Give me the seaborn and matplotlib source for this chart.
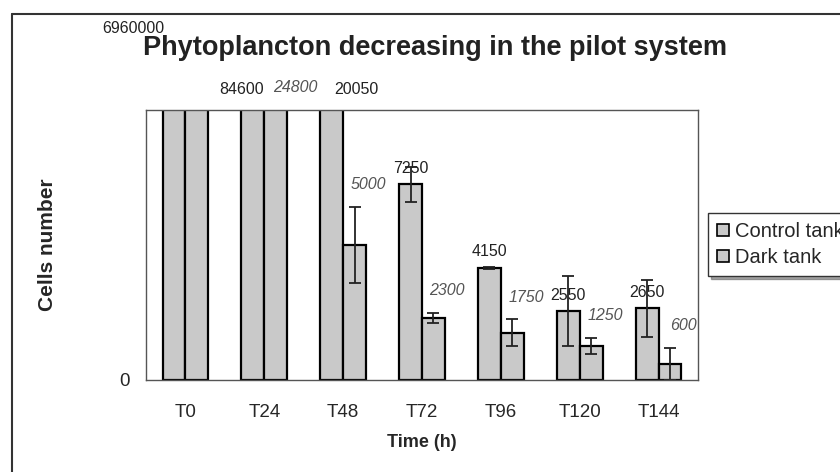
import matplotlib
matplotlib.use('Agg')
import matplotlib.pyplot as plt
from matplotlib.lines import Line2D
from matplotlib.patches import Patch
import pandas as pd
import seaborn as sns

times = ['T0', 'T24', 'T48', 'T72', 'T96', 'T120', 'T144']
control = [6960000, 84600, 20050, 7250, 4150, 2550, 2650]
dark = [6960000, 24800, 5000, 2300, 1750, 1250, 600]
control_err = [0, 0, 0, 650, 50, 1300, 1050]
dark_err = [0, 0, 1400, 200, 500, 300, 600]
series = ['Control tank', 'Dark tank']
y_max = 10000

df = pd.DataFrame({
    'time': times * 2,
    'cells': control + dark,
    'tank': [series[0]] * len(times) + [series[1]] * len(times),
})

sns.set_style('white')
plt.rcParams['font.family'] = ['Liberation Sans', 'DejaVu Sans']

fig = plt.figure(figsize=(8.4, 4.72), dpi=100)
ax = fig.add_axes([146 / 840, 1 - 380 / 472, 552 / 840, 270 / 472])

bar_grey = '#c9c9c9'
sns.barplot(data=df, x='time', y='cells', hue='tank', order=times,
            palette=[bar_grey, bar_grey], width=0.58, edgecolor='black',
            linewidth=1.6, errorbar=None, legend=False, ax=ax)
ax.set_ylim(0, y_max)
ax.set_xlim(-0.5, len(times) - 0.5)

lab_fs = 11.5
n = len(times)
cb = ax.patches[:n]
db = ax.patches[n:2 * n]

def cen(b):
    return b.get_x() + b.get_width() / 2

# error bars + value labels
for i, (bars, vals, errs) in enumerate([(cb, control, control_err), (db, dark, dark_err)]):
    for b, v, e in zip(bars, vals, errs):
        cx = cen(b)
        if e > 0:
            ax.errorbar(cx, v, yerr=e, fmt='none', ecolor='#222222',
                        elinewidth=1.3, capsize=4, capthick=1.3)
        if v > y_max:
            continue
        if i == 0:
            ax.annotate(f'{v}', (cx, v), xytext=(0, 11.5), textcoords='offset points',
                        ha='center', va='center', fontsize=lab_fs, color='#222222')
        else:
            ax.annotate(f'{v}', (cx, v + e), xytext=(10, 16), textcoords='offset points',
                        ha='center', va='center', fontsize=lab_fs, style='italic',
                        color='#555555')

# labels of the bars that run off the top
ax.annotate(f'{control[0]}', (cen(cb[0]), y_max), xytext=(-29.5, 59), textcoords='offset points',
            ha='center', va='center', fontsize=lab_fs, color='#222222', annotation_clip=False)
ax.annotate(f'{control[1]}', (cen(cb[1]), y_max), xytext=(-8, 14.4), textcoords='offset points',
            ha='center', va='center', fontsize=lab_fs, color='#222222', annotation_clip=False)
ax.annotate(f'{dark[1]}', (cen(db[1]), y_max), xytext=(14, 16.5), textcoords='offset points',
            ha='center', va='center', fontsize=lab_fs, style='italic', color='#555555',
            annotation_clip=False)
ax.annotate(f'{control[2]}', (cen(cb[2]), y_max), xytext=(18, 14.4), textcoords='offset points',
            ha='center', va='center', fontsize=lab_fs, color='#222222', annotation_clip=False)

ax.set_yticks([0])
ax.set_yticklabels(['0'], fontsize=13.5)
ax.tick_params(axis='x', length=0, pad=17, labelsize=13.5)
ax.tick_params(axis='y', length=0, pad=12)
ax.set_xlabel('Time (h)', fontsize=13, fontweight='bold', va='center')
ax.xaxis.set_label_coords(0.5, -0.23)
ax.set_ylabel('Cells number', fontsize=15, fontweight='bold', va='center')
ax.yaxis.set_label_coords(-0.179, 0.5)
for s in ax.spines.values():
    s.set_color('#555555')
    s.set_linewidth(1.0)

fig.text(435 / 840, 1 - 48 / 472, 'Phytoplancton decreasing in the pilot system',
         ha='center', va='center', fontsize=19.5, fontweight='bold', color='#222222')

handles = [Patch(facecolor=bar_grey, edgecolor='black', linewidth=1.2, label=s) for s in series]
fig.legend(handles=handles, loc='upper left', bbox_to_anchor=(708 / 840, 1 - 213 / 472),
           frameon=True, fancybox=False, shadow=True, edgecolor='#333333',
           fontsize=14.5, handlelength=0.6, handleheight=0.6, handletextpad=0.3,
           borderpad=0.45, labelspacing=0.35, borderaxespad=0)

# outer frame (left and top edges visible)
fig.add_artist(Line2D([12 / 840, 12 / 840], [0, 1 - 14 / 472], transform=fig.transFigure,
                      color='#333333', lw=1.5))
fig.add_artist(Line2D([12 / 840, 1], [1 - 14 / 472, 1 - 14 / 472], transform=fig.transFigure,
                      color='#333333', lw=1.5))

fig.savefig('out.png', dpi=100)
